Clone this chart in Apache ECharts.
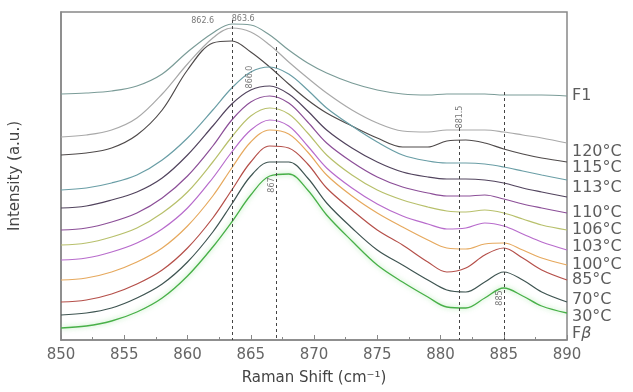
<!DOCTYPE html>
<html><head><meta charset="utf-8">
<script src="https://cdn.jsdelivr.net/npm/echarts@6/dist/echarts.min.js"></script>
<style>html,body{margin:0;padding:0;background:#fff}#c{width:633px;height:392px}</style>
</head><body><div id="c"></div>
<script>
// Raman shift sample positions (cm-1)
const shifts = [850, 852, 854, 856, 858, 860, 862, 863.5, 865, 866.5, 868, 869.5, 871, 873, 875, 877, 879, 880.5, 882, 883.5, 885, 886.5, 888, 890];
// Stacked intensities (a.u., offset for display)
const F1     = [246,247,249,254,266,288,307,316,315,305,290,277,267,257,250,246,245,246,246,246,245,245,245,244];
const T120   = [203,205,210,222,246,276,302,312,308,295,278,262,247,230,217,209,208,210,210,210,208,205,202,197];
const T115   = [185,187,192,205,230,270,297,299,288,273,256,240,227,214,202,193,193,199,200,197,191,186,182,178];
const T113   = [150,152,157,165,180,202,230,252,268,273,266,250,232,214,198,185,179,177,177,176,173,169,165,160];
const T110   = [132,134,140,148,162,185,214,236,250,254,246,229,210,192,178,168,163,161,161,160,157,152,148,143];
const T106   = [110,112,118,127,142,164,194,220,238,244,237,218,197,178,163,153,147,144,144,145,141,136,132,127];
const T103   = [95,97,103,112,127,148,178,203,224,232,226,207,185,165,150,140,133,129,128,130,127,121,115,110];
const T100   = [80,82,88,97,111,132,162,188,210,220,214,194,172,152,136,124,116,111,112,117,114,106,98,90];
const T85    = [60,62,68,78,92,114,144,172,198,210,206,188,165,144,127,113,100,92,91,96,97,90,82,75];
const T70    = [38,40,46,56,70,92,122,150,178,194,192,176,152,130,110,95,78,68,72,85,92,82,70,60];
const T30    = [25,27,32,42,56,78,108,136,164,178,178,162,137,112,90,75,60,50,48,58,68,60,48,38];
const Fbeta  = [12,14,19,28,42,64,93,118,145,164,166,150,125,99,75,58,43,33,32,42,52,44,34,27];

const seriesNames  = ['F1','120°C','115°C','113°C','110°C','106°C','103°C','100°C','85°C','70°C','30°C','Fβ'];
const seriesData   = [F1,T120,T115,T113,T110,T106,T103,T100,T85,T70,T30,Fbeta];
const seriesColors = ['#7b9c98','#a9a9a9','#4f4a4a','#6a9ea6','#52445e','#8c4f98','#b8c06c','#b86ccc','#e6a95e','#b5504a','#3f5552','#48b048'];

// right-hand labels and their levels
const labelNames  = ['F1','120°C','115°C','113°C','110°C','106°C','103°C','100°C','85°C','70°C','30°C','Fβ'];
const labelLevels = [244,188,172,152,127,110,93,75,60,40,23,6];

// dashed peak markers
const peakLines    = [863.5, 867, 881.5, 885];
const peakLineTops = [320, 293, 212, 248];

// peak annotations
const annoTexts = ['862.6','863.6','866.0','867','881.5','885'];
const annoX     = [861.2, 864.4, 864.96, 866.7, 881.5, 884.7];
const annoY     = [319, 321, 263, 155, 223, 42];
const annoRot   = [0, 0, 90, 90, 90, 90];

const chart = echarts.init(document.getElementById('c'));
const FONT = 'DejaVu Sans';

const lineSeries = seriesNames.map((n, i) => ({
  name: n, type: 'line', smooth: 0.35, symbol: 'none', z: 3,
  data: shifts.map((x, j) => [x, seriesData[i][j]]),
  lineStyle: Object.assign({ width: 1.2, color: seriesColors[i] },
    n === 'Fβ' ? { width: 1.3, shadowColor: 'rgba(130,220,130,0.75)', shadowBlur: 5 } : {}),
  itemStyle: { color: seriesColors[i] }
}));

lineSeries[0].markLine = {
  silent: true, symbol: 'none', animation: false,
  label: { show: false },
  lineStyle: { type: [3, 3], color: '#444', width: 1 },
  data: peakLines.map((p, i) => [{ coord: [p, peakLineTops[i]] }, { coord: [p, 0] }])
};

const annoSeries = {
  type: 'scatter', symbolSize: 0, silent: true, z: 5,
  data: annoTexts.map((t, i) => ({
    value: [annoX[i], annoY[i]],
    label: { show: true, position: 'inside', rotate: annoRot[i], formatter: t,
      fontSize: 8, color: '#555', fontFamily: FONT }
  }))
};

const rightLabels = {
  type: 'scatter', symbolSize: 0, silent: true, clip: false, z: 5,
  data: labelNames.map((t, i) => ({
    value: [890, labelLevels[i]],
    label: {
      show: true, position: 'right', distance: 5,
      formatter: t === 'Fβ' ? '{a|F}{b|β}' : t,
      fontSize: 16, color: '#333', fontFamily: FONT,
      rich: { a: { fontSize: 16, color: '#333', fontFamily: FONT },
              b: { fontSize: 16, color: '#333', fontFamily: FONT, fontStyle: 'italic' } }
    }
  }))
};

chart.setOption({
  animation: false,
  backgroundColor: '#fff',
  grid: { left: 60, right: 66, top: 12, bottom: 52, show: true, borderColor: '#888', borderWidth: 1.5, backgroundColor: 'transparent' },
  xAxis: {
    type: 'value', min: 850, max: 890, interval: 5,
    name: 'Raman Shift (cm⁻¹)', nameLocation: 'middle', nameGap: 31,
    nameTextStyle: { fontSize: 15, color: '#444', fontFamily: FONT },
    axisLine: { show: true, lineStyle: { color: '#888', width: 1.5 } },
    axisTick: { show: true, inside: true, length: 5, lineStyle: { color: '#888' } },
    minorTick: { show: true, splitNumber: 2, length: 3, lineStyle: { color: '#888' } },
    axisLabel: { fontSize: 15, color: '#666', fontFamily: FONT, margin: 8 },
    splitLine: { show: false }
  },
  yAxis: {
    type: 'value', min: 0, max: 328,
    name: 'Intensity (a.u.)', nameLocation: 'middle', nameGap: 38,
    nameTextStyle: { fontSize: 15, color: '#444', fontFamily: FONT },
    axisLine: { show: true, lineStyle: { color: '#888', width: 1.5 } },
    axisTick: { show: false }, axisLabel: { show: false }, splitLine: { show: false }
  },
  series: lineSeries.concat([annoSeries, rightLabels])
});
</script></body></html>
